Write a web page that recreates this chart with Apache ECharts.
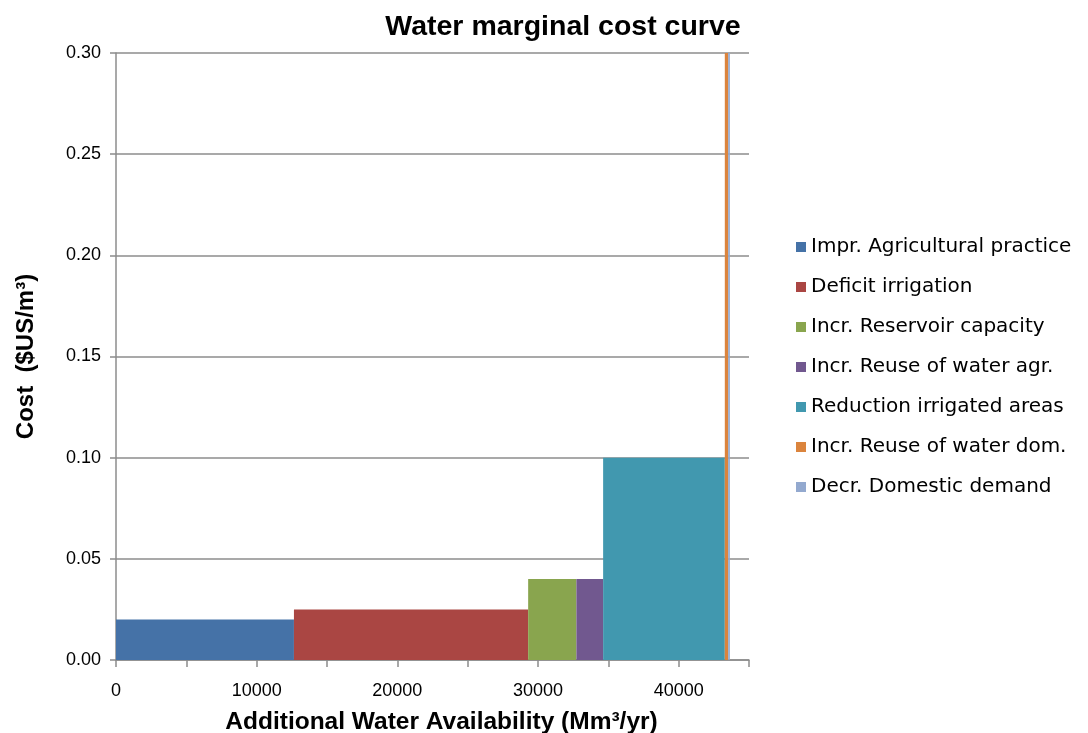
<!DOCTYPE html>
<html><head><meta charset="utf-8">
<script src="https://cdn.jsdelivr.net/npm/echarts@6/dist/echarts.min.js"></script>
<style>html,body{margin:0;padding:0;background:#fff}#c{width:1088px;height:733px}</style>
</head><body><div id="c"></div>
<script>
const measures = ["Impr. Agricultural practice","Deficit irrigation","Incr. Reservoir capacity","Incr. Reuse of water agr.","Reduction irrigated areas","Incr. Reuse of water dom.","Decr. Domestic demand"];
const volumes = [12650, 16650, 3430, 1900, 8650, 240, 120];
const costs = [0.02, 0.025, 0.04, 0.04, 0.10, 0.40, 0.40];
const colors = ["#4572A7","#AA4643","#89A54E","#71588F","#4198AF","#DB843D","#93A9CF"];
const xTicks = [0, 10000, 20000, 30000, 40000];
const yTicks = ["0.00","0.05","0.10","0.15","0.20","0.25","0.30"];

let cum = 0;
const series = measures.map((name, i) => {
  const start = cum; cum += volumes[i];
  return {
    name, type: 'custom', color: colors[i],
    data: [[start, cum, costs[i]]],
    renderItem: function (params, api) {
      const p0 = api.coord([api.value(0), 0]);
      const p1 = api.coord([api.value(1), api.value(2)]);
      const shape = echarts.graphic.clipRectByRect(
        {x: p0[0], y: p1[1], width: p1[0] - p0[0], height: p0[1] - p1[1]},
        {x: params.coordSys.x, y: params.coordSys.y, width: params.coordSys.width, height: params.coordSys.height});
      return shape && {type: 'rect', shape, style: {fill: colors[i]}};
    },
    encode: {x: [0, 1], y: 2}
  };
});

const chart = echarts.init(document.getElementById('c'));
chart.setOption({
  animation: false,
  title: {text: 'Water marginal cost curve', left: 558, top: 8, textAlign: 'center',
    textStyle: {fontFamily: 'Liberation Sans, Arial', fontSize: 28.5, fontWeight: 'bold', color: '#000'}},
  grid: {left: 116, top: 53, width: 633, height: 607, containLabel: false, outerBoundsMode: 'none'},
  legend: {orient: 'vertical', left: 791, top: 232, itemGap: 20, itemWidth: 10, itemHeight: 10,
    icon: 'rect', data: measures,
    textStyle: {fontFamily: 'DejaVu Sans', fontSize: 20, color: '#000', padding: [0,0,0,0]}},
  xAxis: {type: 'value', min: 0, max: 45000, interval: 5000,
    name: 'Additional Water Availability (Mm³/yr)', nameLocation: 'middle', nameGap: 50,
    nameTextStyle: {fontFamily: 'Liberation Sans, Arial', fontSize: 24.5, fontWeight: 'bold', color: '#000', padding: [0,0,0,18]},
    axisLine: {lineStyle: {color: '#8c8c8c', width: 1.5}},
    axisTick: {show: true, length: 7, lineStyle: {color: '#8c8c8c', width: 1.5}},
    axisLabel: {fontFamily: 'Liberation Sans, Arial', fontSize: 18, color: '#000', margin: 22,
      formatter: v => xTicks.includes(v) ? String(v) : ''},
    splitLine: {show: false}},
  yAxis: {type: 'value', min: 0, max: 0.3, interval: 0.05,
    name: 'Cost  ($US/m³)', nameLocation: 'middle', nameGap: 78,
    nameTextStyle: {fontFamily: 'Liberation Sans, Arial', fontSize: 24, fontWeight: 'bold', color: '#000'},
    axisLine: {show: true, lineStyle: {color: '#8c8c8c', width: 1.5}},
    axisTick: {show: true, length: 6, lineStyle: {color: '#8c8c8c', width: 1.5}},
    axisLabel: {fontFamily: 'Liberation Sans, Arial', fontSize: 18, color: '#000', margin: 15,
      formatter: v => yTicks[Math.round(v / 0.05)]},
    splitLine: {lineStyle: {color: '#8c8c8c', width: 1.5}}},
  series
});
</script></body></html>
